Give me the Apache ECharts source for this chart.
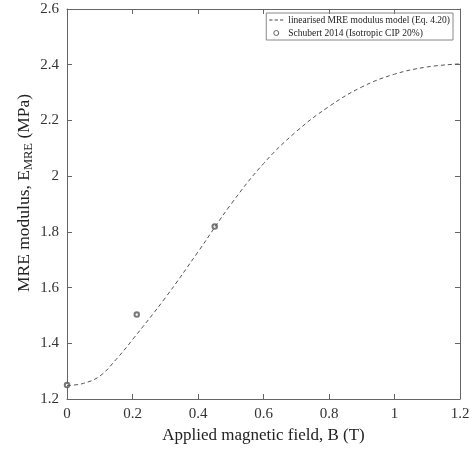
<!DOCTYPE html>
<html><head><meta charset="utf-8">
<script src="https://cdn.jsdelivr.net/npm/echarts@6/dist/echarts.min.js"></script>
<style>html,body{margin:0;padding:0;background:#fff}#c{width:473px;height:451px}</style>
</head><body><div id="c"></div>
<script>
const modelB = [0,0.05,0.1,0.15,0.2,0.3,0.4,0.5,0.6,0.7,0.8,0.9,1.0,1.1,1.2];
const modelE = [1.248,1.256,1.282,1.342,1.413,1.563,1.728,1.898,2.045,2.16,2.25,2.32,2.366,2.392,2.403];
const expB = [0,0.213,0.451];
const expE = [1.25,1.503,1.819];
const xTicks = [0,0.2,0.4,0.6,0.8,1,1.2];
const yTicks = [1.2,1.4,1.6,1.8,2,2.2,2.4,2.6];

const font = 'Liberation Serif';
const axisCol = '#666';
const chart = echarts.init(document.getElementById('c'));
const grid = {left:67, right:13, top:9, bottom:52};
const common = {
  axisLine:{show:true, onZero:false, lineStyle:{color:axisCol, width:1}},
  axisTick:{show:true, inside:true, length:5, lineStyle:{color:axisCol}},
  splitLine:{show:false}
};
const fmt = v => String(+v.toFixed(1));
chart.setOption({
  animation:false,
  backgroundColor:'#fff',
  grid: grid,
  legend: {
    right: 20, top: 13, orient:'vertical', itemGap: 3,
    itemWidth: 14, itemHeight: 5, symbolKeepAspect:true,
    borderColor:'#888', borderWidth:1, padding:[2,3,2,3],
    textStyle:{fontFamily:font, fontSize:9.5, color:'#222'},
    data:[
      {name:'linearised MRE modulus model (Eq. 4.20)', icon:'path://M0,0h3v1h-3zM5,0h3v1h-3zM10,0h3v1h-3z', itemStyle:{color:'#444'}},
      {name:'Schubert 2014 (Isotropic CIP 20%)', icon:'circle', itemStyle:{color:'#fff', borderColor:'#444', borderWidth:1}}
    ]
  },
  xAxis: [
    Object.assign({type:'value', min:0, max:1.2, interval:0.2, position:'bottom',
      name:'Applied magnetic field, B (T)', nameLocation:'middle', nameGap:27,
      nameTextStyle:{fontFamily:font, fontSize:17, color:'#222'},
      axisLabel:{fontFamily:font, fontSize:15, color:'#333', margin:8, formatter:fmt}}, common),
    Object.assign({type:'value', min:0, max:1.2, interval:0.2, position:'top', axisLabel:{show:false}}, common)
  ],
  yAxis: [
    Object.assign({type:'value', min:1.2, max:2.6, interval:0.2, position:'left',
      name:'{a0|MRE modulus, E}{s|MRE}{a| (MPa)}', nameLocation:'middle', nameGap:32, nameRotate:90,
      nameMoveOverlap:false,
      nameTextStyle:{rich:{
        a0:{fontFamily:font, fontSize:17.5, color:'#222', padding:[0,0,0,22]},
        a:{fontFamily:font, fontSize:17.5, color:'#222'},
        s:{fontFamily:font, fontSize:12.5, color:'#222', padding:[9,0,0,0]}}},
      axisLabel:{fontFamily:font, fontSize:15, color:'#333', margin:8, formatter:fmt}}, common),
    Object.assign({type:'value', min:1.2, max:2.6, interval:0.2, position:'right', axisLabel:{show:false}}, common)
  ],
  series: [
    {name:'linearised MRE modulus model (Eq. 4.20)', type:'line', smooth:0.4, symbol:'none',
     data: modelB.map((b,i)=>[b, modelE[i]]),
     lineStyle:{color:'#555', width:1, type:[4,3]}, itemStyle:{color:'#555'}},
    {name:'Schubert 2014 (Isotropic CIP 20%)', type:'scatter', symbol:'emptyCircle', symbolSize:4.5,
     data: expB.map((b,i)=>[b, expE[i]]),
     itemStyle:{color:'#555', borderColor:'#555', borderWidth:0.8}}
  ]
});
</script></body></html>
